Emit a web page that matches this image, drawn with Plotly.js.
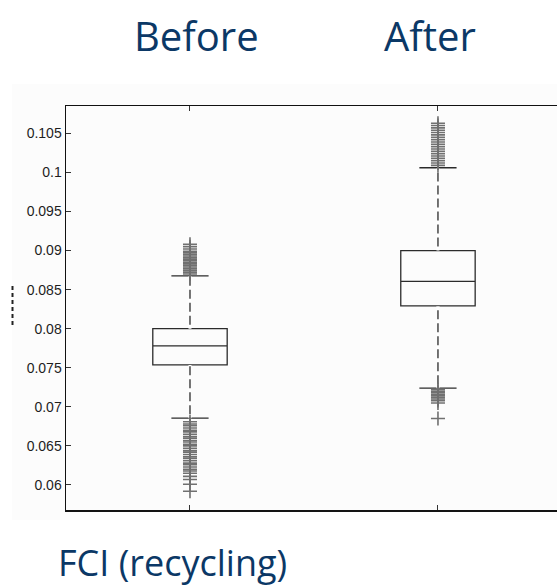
<!DOCTYPE html>
<html>
<head>
<meta charset="utf-8">
<script src="https://cdn.plot.ly/plotly-3.0.1.min.js"></script>
<style>html,body{margin:0;padding:0;background:#fff;}#chart{width:557px;height:588px;}</style>
</head>
<body>
<div id="chart"></div>
<script>
// Groups and box statistics
const groups = ["Before", "After"];
const positions = [1, 2];
const q1 = [0.07536, 0.08292];
const medians = [0.0778, 0.08607];
const q3 = [0.0800, 0.0900];
const lowerWhisker = [0.06855, 0.07239];
const upperWhisker = [0.08675, 0.1006];

// Outliers
const beforeHigh = [0.0870, 0.0872, 0.0874, 0.0875, 0.0877, 0.0879, 0.0881, 0.0883, 0.0885, 0.0887, 0.0889, 0.0891, 0.0893, 0.0895, 0.0897, 0.0899, 0.0902, 0.0905, 0.0908];
const beforeLow = [0.0681, 0.0678, 0.0676, 0.0673, 0.0670, 0.0668, 0.0665, 0.0662, 0.0660, 0.0657, 0.0655, 0.0652, 0.0650, 0.0647, 0.0644, 0.0642, 0.0639, 0.0636, 0.0634, 0.0631, 0.0628, 0.0626, 0.0623, 0.0620, 0.0618, 0.0615, 0.0611, 0.0607, 0.0601, 0.0592];
const afterHigh = [0.1009, 0.1012, 0.1015, 0.1018, 0.1021, 0.1024, 0.1027, 0.1030, 0.1033, 0.1036, 0.1039, 0.1042, 0.1045, 0.1048, 0.1051, 0.1054, 0.1057, 0.1060, 0.1063];
const afterLow = [0.0722, 0.0720, 0.0718, 0.0716, 0.0714, 0.0712, 0.0710, 0.0708, 0.0705, 0.0685];

// Axis ticks
const yTickVals = [0.06, 0.065, 0.07, 0.075, 0.08, 0.085, 0.09, 0.095, 0.1, 0.105];
const yTickText = ["0.06", "0.065", "0.07", "0.075", "0.08", "0.085", "0.09", "0.095", "0.1", "0.105"];
const caption = "FCI (recycling)";

const lineCol = "#2b2b2b";
const markCol = "#707070";

const traces = [];
traces.push({
  type: "box",
  x: positions,
  q1: q1, median: medians, q3: q3,
  lowerfence: lowerWhisker, upperfence: upperWhisker,
  boxpoints: false,
  width: 0.30,
  whiskerwidth: 0.5,
  fillcolor: "rgba(0,0,0,0)",
  line: {color: lineCol, width: 1.3},
  hoverinfo: "skip",
  showlegend: false
});

// white gaps overlaid on whiskers to make them look dashed
const wx = [], wy = [];
positions.forEach((p, i) => {
  wx.push(p, p, null, p, p, null);
  wy.push(q3[i], upperWhisker[i], null, lowerWhisker[i], q1[i], null);
});
traces.push({
  type: "scatter", mode: "lines", x: wx, y: wy,
  line: {color: "#ffffff", width: 3, dash: "4px,9px"},
  hoverinfo: "skip", showlegend: false
});

const outSets = [[positions[0], beforeHigh], [positions[0], beforeLow], [positions[1], afterHigh], [positions[1], afterLow]];
outSets.forEach(([p, vals]) => {
  traces.push({
    type: "scatter", mode: "markers",
    x: vals.map(() => p), y: vals,
    marker: {symbol: "cross-thin-open", size: 10, color: markCol, line: {color: markCol, width: 1.6}},
    hoverinfo: "skip", showlegend: false
  });
});

const plotLeft = 66, plotWidth = 557 - 66, plotTop = 106, plotHeight = 510 - 106;
const px = v => (v - plotLeft) / plotWidth;
const py = v => (plotTop + plotHeight - v) / plotHeight;

const layout = {
  width: 557, height: 588,
  margin: {l: plotLeft, r: 0, t: plotTop, b: 588 - 510, pad: 0},
  paper_bgcolor: "#ffffff",
  plot_bgcolor: "rgba(0,0,0,0)",
  showlegend: false,
  xaxis: {
    range: [0.5, 2.48],
    tickvals: positions, ticktext: ["", ""],
    ticks: "inside", ticklen: 5, tickcolor: "#333", tickwidth: 1,
    showline: true, linecolor: "#111", linewidth: 1.5,
    mirror: "ticks", showgrid: false, zeroline: false, fixedrange: true
  },
  yaxis: {
    range: [0.0568, 0.1085],
    tickvals: yTickVals, ticktext: yTickText,
    ticks: "inside", ticklen: 5, tickcolor: "#333", tickwidth: 1,
    showline: true, linecolor: "#111", linewidth: 1.5,
    mirror: false, showgrid: false, zeroline: false,
    tickfont: {family: "Liberation Sans, Arial, sans-serif", size: 14, color: "#1e1e1e"},
    fixedrange: true
  },
  shapes: [
    {type: "rect", xref: "paper", yref: "paper", x0: px(12), x1: px(557), y0: py(520), y1: py(84),
     fillcolor: "#fcfcfc", line: {width: 0}, layer: "below"},
    {type: "line", xref: "paper", yref: "paper", x0: px(12.5), x1: px(12.5), y0: py(286), y1: py(328),
     line: {color: "#222", width: 2, dash: "4px,3px"}}
  ],
  annotations: [
    {xref: "paper", yref: "paper", x: px(196), y: py(35), xanchor: "center", yanchor: "middle",
     text: groups[0], showarrow: false, font: {family: "Open Sans, sans-serif", size: 40, color: "#0b3866"}},
    {xref: "paper", yref: "paper", x: px(430), y: py(35), xanchor: "center", yanchor: "middle",
     text: groups[1], showarrow: false, font: {family: "Open Sans, sans-serif", size: 40, color: "#0b3866"}},
    {xref: "paper", yref: "paper", x: px(56), y: py(562), xanchor: "left", yanchor: "middle",
     text: caption, showarrow: false, font: {family: "Open Sans, sans-serif", size: 36, color: "#0b3866"}}
  ]
};

Plotly.newPlot("chart", traces, layout, {displayModeBar: false, staticPlot: true});
</script>
</body>
</html>
